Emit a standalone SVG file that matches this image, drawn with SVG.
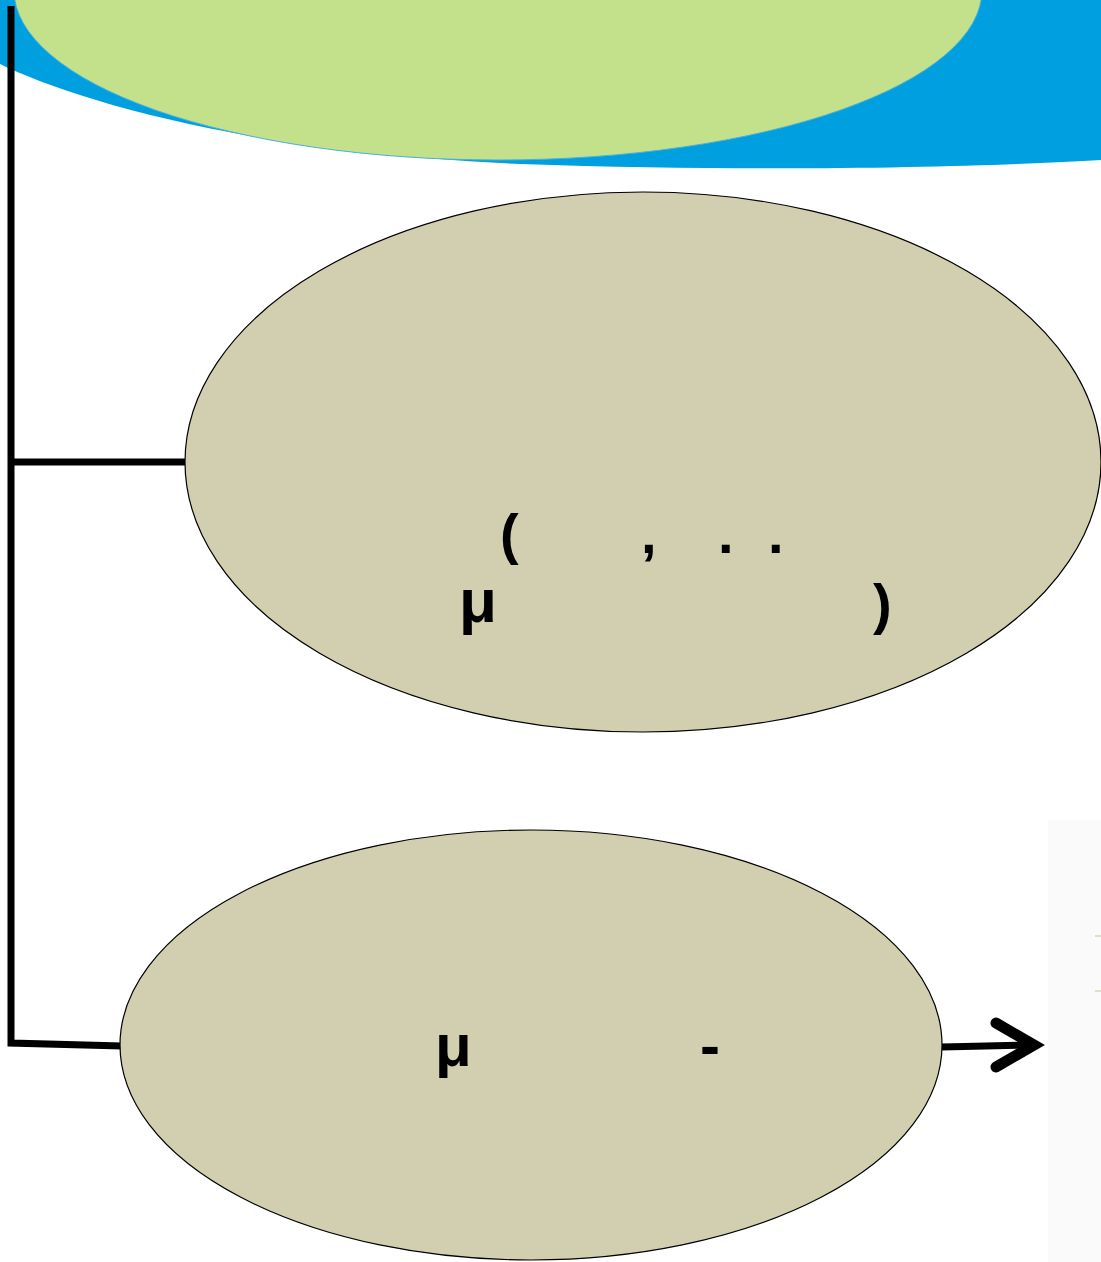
<svg xmlns="http://www.w3.org/2000/svg" width="1101" height="1262" viewBox="0 0 1101 1262">
<defs>
<style>
.node{fill:#d2cfb1;stroke:#000;stroke-width:1.2}
.t{font-family:"Liberation Sans",Arial,sans-serif;font-weight:bold;fill:#000}
.conn{fill:none;stroke:#000;stroke-width:7}
</style>
</defs>
<rect width="1101" height="1262" fill="#fff"/>
<g id="header">
<path d="M0,0 L0,64 C 70,98 240,152 520,164 C 780,173 1000,166 1101,160 L1101,0 Z" fill="#009fe0"/>
<ellipse cx="498" cy="-10" rx="484" ry="170" fill="#c3e08a" stroke="#4ab0d8" stroke-width="1"/>
</g>
<g id="side-panel">
<rect x="1048" y="820" width="53" height="442" fill="#fafafa"/>
<line x1="1095" y1="936" x2="1101" y2="936" stroke="#c8c0a0" stroke-width="1"/>
<line x1="1095" y1="991" x2="1101" y2="991" stroke="#c8c0a0" stroke-width="1"/>
</g>
<g id="connectors">
<polyline class="conn" points="11,6 11,1043 122,1046"/>
<line class="conn" x1="11" y1="462" x2="185" y2="462"/>
<line class="conn" x1="942" y1="1047" x2="1030" y2="1045" stroke-width="8"/>
<polyline points="996,1023 1034,1045 996,1067" fill="none" stroke="#000" stroke-width="11" stroke-linecap="round" stroke-linejoin="miter"/>
</g>
<g id="node-middle">
<ellipse class="node" cx="643" cy="462" rx="458" ry="270"/>
<text class="t" x="500" y="553" font-size="56">(</text>
<text class="t" x="641" y="553" font-size="56">,</text>
<text class="t" x="718" y="553" font-size="56">.</text>
<text class="t" x="768" y="553" font-size="56">.</text>
<text class="t" x="459" y="622" font-size="62">μ</text>
<text class="t" x="873" y="623" font-size="56">)</text>
</g>
<g id="node-bottom">
<ellipse class="node" cx="531" cy="1045" rx="411" ry="215"/>
<text class="t" x="435" y="1066" font-size="60">μ</text>
<text class="t" x="700" y="1066" font-size="60">-</text>
</g>
</svg>
